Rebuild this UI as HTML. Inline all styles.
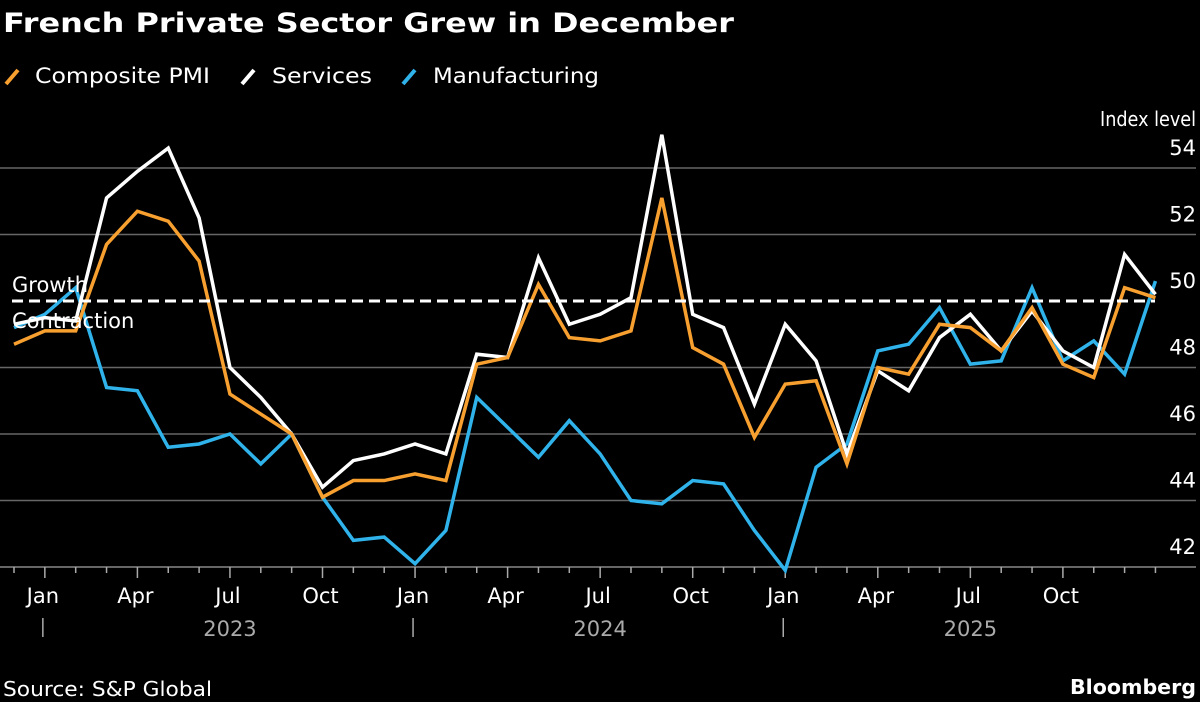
<!DOCTYPE html>
<html><head><meta charset="utf-8">
<style>
html,body{margin:0;padding:0;background:#000;width:1200px;height:702px;overflow:hidden}
svg{display:block;font-family:"DejaVu Sans","Liberation Sans",sans-serif}
</style></head>
<body>
<svg id="chart" width="1200" height="702" viewBox="0 0 1200 702">
<text x="3" y="32" fill="#fff" font-size="27" font-weight="bold" textLength="731" lengthAdjust="spacingAndGlyphs">French Private Sector Grew in December</text>
<g font-size="21" fill="#fff">
 <g><line x1="6" y1="84" x2="18" y2="70" stroke="#f7a030" stroke-width="4"/><text x="35" y="83" textLength="175" lengthAdjust="spacingAndGlyphs">Composite PMI</text></g>
 <g><line x1="242" y1="84" x2="254" y2="70" stroke="#fff" stroke-width="4"/><text x="272" y="83" textLength="100" lengthAdjust="spacingAndGlyphs">Services</text></g>
 <g><line x1="403" y1="84" x2="415" y2="70" stroke="#2fb3ea" stroke-width="4"/><text x="433" y="83" textLength="166" lengthAdjust="spacingAndGlyphs">Manufacturing</text></g>
</g>
<text x="1196" y="126" fill="#fff" font-size="20" text-anchor="end" textLength="96" lengthAdjust="spacingAndGlyphs">Index level</text>
<g id="grid"></g>
<g id="ticks"></g>
<g id="series"></g>
<text x="12" y="292" fill="#fff" font-size="21">Growth</text>
<text x="12" y="328" fill="#fff" font-size="21">Contraction</text>
<text x="3" y="696" fill="#fff" font-size="20" textLength="209" lengthAdjust="spacingAndGlyphs">Source: S&amp;P Global</text>
<text x="1196" y="694" fill="#fff" font-size="20" font-weight="bold" text-anchor="end" textLength="126" lengthAdjust="spacingAndGlyphs">Bloomberg</text>
</svg>
<script>
const yTicks=[42,44,46,48,50,52,54];
const monthLabels=["Jan","Apr","Jul","Oct","Jan","Apr","Jul","Oct","Jan","Apr","Jul","Oct"];
const monthLabelIdx=[1,4,7,10,13,16,19,22,25,28,31,34];
const yearLabels=["2023","2024","2025"];
const yearIdx=[7,19,31];
const yearSepIdx=[1,13,25];
const composite=[48.7,49.1,49.1,51.7,52.7,52.4,51.2,47.2,46.6,46.0,44.1,44.6,44.6,44.8,44.6,48.1,48.3,50.5,48.9,48.8,49.1,53.1,48.6,48.1,45.9,47.5,47.6,45.1,48.0,47.8,49.3,49.2,48.5,49.8,48.1,47.7,50.4,50.1];
const services=[49.3,49.5,49.4,53.1,53.9,54.6,52.5,48.0,47.1,46.0,44.4,45.2,45.4,45.7,45.4,48.4,48.3,51.3,49.3,49.6,50.1,55.0,49.6,49.2,46.9,49.3,48.2,45.4,47.9,47.3,48.9,49.6,48.5,49.7,48.5,48.0,51.4,50.2];
const manufacturing=[49.2,49.6,50.4,47.4,47.3,45.6,45.7,46.0,45.1,46.0,44.1,42.8,42.9,42.1,43.1,47.1,46.2,45.3,46.4,45.4,44.0,43.9,44.6,44.5,43.1,41.9,45.0,45.7,48.5,48.7,49.8,48.1,48.2,50.4,48.2,48.8,47.8,50.6];

const NS="http://www.w3.org/2000/svg";
const x=i=>14+i*30.85;
const y=v=>301-(v-50)*33.25;
function mk(tag,attrs,parent){const e=document.createElementNS(NS,tag);for(const k in attrs)e.setAttribute(k,attrs[k]);parent.appendChild(e);return e;}
const grid=document.getElementById('grid'),ticks=document.getElementById('ticks'),ser=document.getElementById('series');
yTicks.forEach(v=>{
 if(v!==50){const l=mk('line',{x1:0,x2:1196,y1:y(v),y2:y(v),stroke:v===42?'#888':'#666','stroke-width':1.5},grid);
 
 }
 const t=mk('text',{x:1196,y:y(v)-13,fill:'#fff','font-size':21,'text-anchor':'end'},grid);t.textContent=v;
 
 
});
for(let i=0;i<composite.length;i++){
 const major=monthLabelIdx.includes(i);
 const l=mk('line',{x1:x(i),x2:x(i),y1:y(42),y2:y(42)+(major?11:6),stroke:'#aaa','stroke-width':1.5},ticks);
 
 
}
monthLabels.forEach((m,k)=>{const t=mk('text',{x:x(monthLabelIdx[k])-2,y:603,fill:'#fff','font-size':21,'text-anchor':'middle'},ticks);t.textContent=m;
 
 });
yearLabels.forEach((yl,k)=>{const t=mk('text',{x:x(yearIdx[k]),y:636,fill:'#aaa','font-size':21,'text-anchor':'middle'},ticks);t.textContent=yl;
 
 });
yearSepIdx.forEach(i=>{const l=mk('line',{x1:x(i)-2,x2:x(i)-2,y1:618,y2:637,stroke:'#aaa','stroke-width':1.5},ticks);
 
 });
function line(data,color,name){
 const p=mk('polyline',{points:data.map((v,i)=>x(i)+','+y(v)).join(' '),fill:'none',stroke:color,'stroke-width':3.5,'stroke-linejoin':'miter'},ser);
 
 
}
line(manufacturing,'#2fb3ea','manufacturing-line');
line(services,'#ffffff','services-line');
line(composite,'#f7a030','composite-line');
const d=mk('line',{x1:12,x2:1155,y1:y(50),y2:y(50),stroke:'#fff','stroke-width':3,'stroke-dasharray':'11,6'},ser);


</script>
</body></html>
